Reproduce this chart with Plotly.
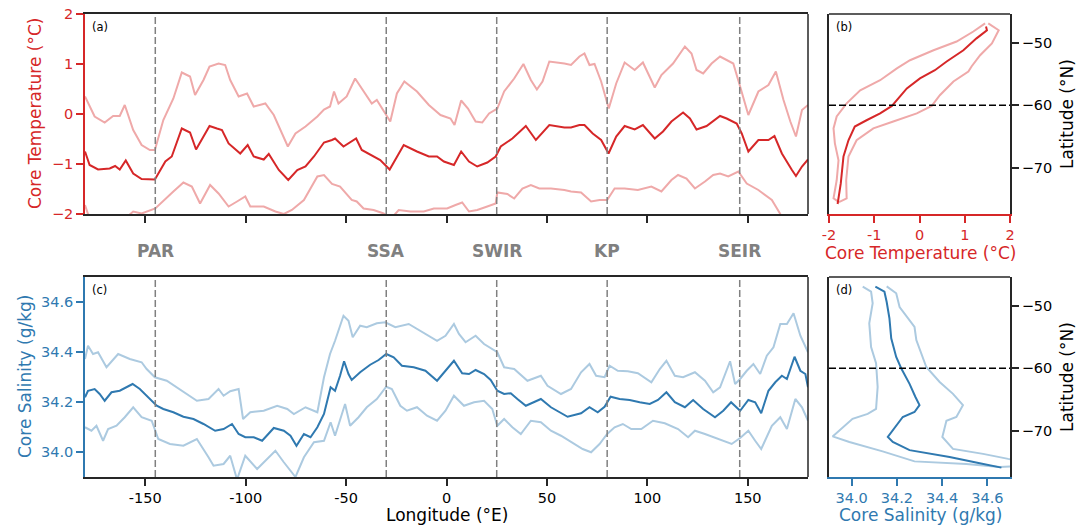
import plotly.graph_objects as go

# ---------------- data ----------------
ridge_names = ["PAR", "SSA", "SWIR", "KP", "SEIR"]
ridge_lons = [-145, -30, 25, 80, 146]

lon_t_mean = [-180, -177.7, -173.5, -167.7, -165, -162.7, -159.7, -156, -151.8, -145.2, -140, -136.8, -131.8, -127.7,
              -124.7, -118, -114.3, -111.8, -108.5, -102.7, -99, -96, -91, -88.5, -83.5, -78.8, -74.3, -70.2, -66,
              -61, -57, -55.5, -51.3, -48.8, -45, -42.2, -36.3, -33, -28.3, -25.5, -21.3, -14.7, -8.8, -4.7, -1.3,
              3.7, 7.3, 11.2, 15.3, 20.3, 24.5, 27, 32.8, 39.5, 44.5, 51.2, 58.7, 62, 66.2, 68.7, 72.8, 77, 80.7,
              84.5, 88.7, 93.7, 97.8, 103.7, 107.8, 112, 117.8, 121.2, 124.5, 129.5, 136.2, 139.5, 144.5, 147,
              150.3, 155.3, 160.3, 163.3, 167, 172, 174, 177, 180]
t_mean = [-0.75, -1.02, -1.11, -1.09, -1.04, -1.11, -0.93, -1.19, -1.30, -1.31, -0.95, -0.85, -0.29, -0.37,
          -0.71, -0.24, -0.29, -0.32, -0.59, -0.79, -0.62, -0.85, -0.91, -0.80, -1.12, -1.32, -1.12, -1.05, -0.85,
          -0.57, -0.52, -0.49, -0.65, -0.59, -0.49, -0.72, -0.84, -0.92, -1.11, -0.92, -0.62, -0.75, -0.85, -0.85,
          -0.95, -1.02, -0.75, -0.95, -1.05, -0.97, -0.85, -0.65, -0.49, -0.24, -0.52, -0.22, -0.27, -0.27, -0.22,
          -0.22, -0.39, -0.52, -0.79, -0.45, -0.24, -0.31, -0.22, -0.49, -0.35, -0.15, 0.03, -0.09, -0.31, -0.24,
          -0.04, -0.09, -0.19, -0.39, -0.75, -0.52, -0.52, -0.44, -0.79, -1.12, -1.24, -1.05, -0.91]

lon_t_upper = [-180, -175.2, -170.2, -166, -162.7, -160.2, -156, -151.8, -147.7, -145.2, -141, -136, -131.8, -127.7,
               -125.2, -121, -118, -113.5, -110.2, -107.7, -103.5, -99.3, -96, -90.2, -86, -79, -75.2, -70.2, -64.3,
               -61, -58, -56, -53.8, -49.7, -45.5, -41.3, -37.2, -34.7, -30.5, -28, -24.7, -21, -14.7, -8.8, -3, 2,
               4, 7.3, 10.7, 14.5, 17.8, 21.2, 25.3, 28.7, 33.7, 38.3, 42, 45, 47.8, 51.2, 58.7, 62, 66.2, 68.7,
               71.2, 73.7, 77, 80.8, 84.5, 88.7, 93.7, 97.8, 103.7, 107, 112.8, 118.7, 122, 124.5, 127.8, 132,
               136.2, 139, 142.8, 146.2, 150.3, 155.3, 160.3, 164, 167.8, 171.2, 174, 177, 180]
t_upper = [0.35, -0.05, -0.17, -0.04, -0.04, 0.18, -0.32, -0.62, -0.72, -0.72, -0.12, 0.31, 0.83, 0.75,
           0.38, 0.68, 0.95, 1.01, 0.98, 0.68, 0.35, 0.41, 0.15, 0.21, -0.02, -0.65, -0.39, -0.25, -0.05,
           0.09, 0.15, 0.45, 0.21, 0.35, 0.71, 0.45, 0.21, 0.28, 0.01, -0.15, 0.41, 0.65, 0.45, 0.18, -0.02, -0.09,
           -0.22, 0.27, 0.11, -0.15, -0.17, 0.01, 0.11, 0.45, 0.71, 1.0, 0.68, 0.49, 0.65, 1.05, 1.01, 0.98, 1.15, 1.21,
           0.98, 1.0, 0.65, 0.11, 0.61, 1.03, 0.88, 1.03, 0.53, 0.78, 1.01, 1.35, 1.21, 0.88, 0.81, 1.01,
           1.15, 1.09, 1.01, 0.55, -0.02, 0.45, 0.58, 0.85, 0.28, -0.15, -0.45, 0.08, 0.18]

lon_t_lower = [-180, -178.5, -176, -170, -163, -158, -156, -151.8, -145, -140, -136, -131, -126.8, -122.7, -117.7,
               -113.5, -108.5, -104.3, -100.2, -97.7, -91, -85.2, -81, -77, -71, -64.3, -61, -57, -53, -47.2, -44.7,
               -41.3, -36.3, -31.3, -29, -26, -23.8, -18, -11.3, -6.3, 0.3, 4.5, 7.8, 11.2, 15.3, 20.3, 24.5, 25.3,
               30.3, 33.7, 37.8, 42, 46.2, 52, 58.7, 62, 67, 72, 76.2, 80, 83.7, 88.7, 95.3, 102, 107, 112, 115.3,
               119.5, 123.7, 128.7, 132.8, 136.2, 140.3, 145.3, 149.5, 155.3, 162, 166.2, 170, 175, 180]
t_lower = [-1.82, -2.0, -2.1, -2.15, -2.1, -2.02, -1.95, -1.99, -1.89, -1.69, -1.55, -1.37, -1.45, -1.79, -1.42,
           -1.59, -1.85, -1.75, -1.65, -1.85, -1.85, -1.95, -2.0, -1.92, -1.72, -1.25, -1.22, -1.40, -1.45, -1.72,
           -1.75, -1.89, -1.92, -1.99, -2.05, -2.02, -1.92, -1.95, -1.95, -1.89, -1.89, -1.82, -1.77, -1.95, -1.92,
           -1.85, -1.79, -1.57, -1.6, -1.69, -1.49, -1.42, -1.49, -1.49, -1.52, -1.55, -1.57, -1.75, -1.72, -1.72,
           -1.49, -1.49, -1.52, -1.45, -1.55, -1.32, -1.22, -1.29, -1.49, -1.35, -1.22, -1.19, -1.25, -1.15, -1.39,
           -1.52, -1.72, -2.0, -2.2, -2.3, -2.3]

lon_s_mean = [-180, -178.5, -175.2, -172.7, -170.2, -166.8, -162.7, -159.3, -156.3, -152.7, -148.5, -144.3, -141,
              -136, -131, -126, -121, -115.2, -111, -106.8, -103.5, -100.2, -96, -91.8, -86, -81, -77.7, -74.7, -71,
              -67.7, -64.3, -61, -57.7, -55.5, -53, -51, -48.8, -47.2, -43, -38, -33.8, -30, -26.3, -22.2, -16.3,
              -10.5, -4.7, -0.5, 3.7, 7.8, 11.2, 14.5, 18.7, 22, 25.3, 28.7, 32, 35.3, 39.5, 47, 52, 60.3, 62, 67,
              71.2, 75.3, 78.7, 81.7, 86.2, 91.2, 96.2, 101.2, 105.3, 109.5, 113.7, 118.7, 122.8, 127.8, 133.7,
              137.8, 141.7, 146.2, 150.3, 153.7, 156.7, 160.3, 163.7, 167, 169.5, 173.3, 176.2, 178.7, 180]
s_mean = [34.219, 34.245, 34.252, 34.232, 34.205, 34.239, 34.245, 34.259, 34.272, 34.252, 34.219, 34.185, 34.172,
          34.159, 34.141, 34.132, 34.112, 34.085, 34.092, 34.112, 34.072, 34.059, 34.059, 34.045, 34.096, 34.085,
          34.065, 34.025, 34.072, 34.059, 34.099, 34.152, 34.259, 34.245, 34.305, 34.363, 34.312, 34.288, 34.319,
          34.349, 34.368, 34.392, 34.379, 34.345, 34.339, 34.325, 34.285, 34.325, 34.365, 34.315, 34.312, 34.328,
          34.312, 34.288, 34.245, 34.232, 34.235, 34.212, 34.185, 34.212, 34.179, 34.141, 34.145, 34.155, 34.179,
          34.159, 34.181, 34.221, 34.212, 34.208, 34.199, 34.192, 34.208, 34.239, 34.199, 34.179, 34.208, 34.172,
          34.139, 34.165, 34.199, 34.165, 34.208, 34.199, 34.155, 34.245, 34.279, 34.305, 34.292, 34.381, 34.325,
          34.312, 34.259]

lon_s_upper = [-180, -178.5, -176, -173.5, -169.3, -163.5, -157.7, -151.8, -149.3, -145.2, -139.3, -131, -124.3,
               -118.5, -113.5, -111, -107.7, -103.5, -101.3, -97.7, -91, -84.3, -79.3, -76, -70.2, -64.3, -61, -58,
               -55.5, -51.3, -48.8, -46.7, -43, -39.7, -34.7, -30.5, -25.5, -18.8, -13, -4.7, -0.5, 3.7, 6.2, 9.5,
               14.5, 18.7, 25.3, 28.7, 33.7, 40.3, 47, 50.3, 57, 62, 67, 71.2, 74.5, 78.7, 81.2, 85.3, 90.3, 95.3,
               102, 106.2, 109.5, 113.7, 117.8, 123.7, 128.7, 132.8, 136.2, 138.7, 141.2, 143.7, 146.2, 149.5, 152.8,
               156.2, 159.5, 162.8, 166.2, 169.5, 172.8, 176.2, 180]
s_upper = [34.372, 34.425, 34.392, 34.399, 34.339, 34.392, 34.372, 34.359, 34.332, 34.299, 34.285, 34.239, 34.205,
           34.212, 34.252, 34.225, 34.243, 34.252, 34.132, 34.159, 34.165, 34.185, 34.172, 34.152, 34.179, 34.159,
           34.299, 34.392, 34.445, 34.545, 34.525, 34.459, 34.505, 34.499, 34.515, 34.519, 34.499, 34.512, 34.485,
           34.445, 34.465, 34.512, 34.472, 34.439, 34.465, 34.432, 34.399, 34.339, 34.332, 34.285, 34.305, 34.265,
           34.232, 34.252, 34.319, 34.352, 34.305, 34.299, 34.345, 34.325, 34.323, 34.315, 34.279, 34.332, 34.365,
           34.305, 34.299, 34.319, 34.285, 34.239, 34.259, 34.312, 34.363, 34.272, 34.292, 34.325, 34.352, 34.312,
           34.385, 34.419, 34.512, 34.512, 34.555, 34.465, 34.399]

lon_s_lower = [-180, -176.8, -174.3, -171, -168.5, -164.3, -160.2, -156, -151.8, -146.8, -143.5, -137.7, -131,
               -124.3, -118.5, -116, -111, -107.7, -104.3, -100.2, -94.3, -89.3, -85.2, -81, -75.2, -71, -66, -61,
               -57.7, -55.5, -53, -50.5, -48, -43.8, -39.7, -34.7, -30, -27.2, -23, -19.7, -14.7, -9.7, -4.7, -0.5,
               3.7, 8.7, 13.7, 18.7, 22.8, 25.3, 28.7, 32.8, 37, 42, 47, 52, 57, 62, 67.8, 72, 76.2, 80, 83.7, 87.8,
               92, 97, 102.8, 108.7, 115.3, 120.3, 123.7, 128.7, 135.3, 142, 146.2, 150.3, 153.7, 156.7, 162, 166.2,
               169.5, 173.7, 177, 180]
s_lower = [34.099, 34.085, 34.105, 34.045, 34.092, 34.105, 34.139, 34.179, 34.139, 34.125, 34.052, 34.032, 34.025,
           34.052, 33.979, 33.945, 33.952, 33.985, 33.89, 33.985, 33.932, 33.972, 34.005, 33.959, 33.90, 33.979,
           34.039, 34.045, 34.119, 34.065, 34.125, 34.192, 34.105, 34.139, 34.179, 34.212, 34.261, 34.252, 34.185,
           34.165, 34.179, 34.145, 34.125, 34.165, 34.225, 34.185, 34.199, 34.205, 34.172, 34.105, 34.132, 34.099,
           34.072, 34.125, 34.119, 34.085, 34.065, 34.039, 34.012, 33.999, 34.032, 34.072, 34.099, 34.112, 34.092,
           34.092, 34.125, 34.115, 34.092, 34.059, 34.085, 34.072, 34.052, 34.032, 34.056, 34.085, 34.045, 34.012,
           34.105, 34.139, 34.092, 34.212, 34.179, 34.125]

# latitude profiles
lat_bt_mean = [-47.4, -48.0, -49.3, -51.2, -53.0, -54.4, -55.7, -57.3, -60.1, -61.3, -62.4, -63.4, -65.6, -68.2, -72.5, -75.8]
bt_mean = [1.47, 1.49, 1.26, 0.97, 0.60, 0.34, 0.01, -0.28, -0.61, -0.87, -1.17, -1.43, -1.57, -1.68, -1.74, -1.81]
lat_bt_upper = [-46.9, -48.0, -50.1, -52.0, -53.8, -54.6, -56.2, -58.4, -60.1, -61.3, -62.6, -63.7, -65.6, -68.2, -72.0, -74.9, -75.5]
bt_upper = [1.52, 1.75, 1.60, 1.34, 1.15, 1.08, 0.75, 0.45, 0.27, -0.06, -0.58, -1.02, -1.39, -1.57, -1.62, -1.61, -1.78]
lat_bt_lower = [-46.9, -48.2, -49.8, -51.2, -52.8, -54.1, -56.0, -57.6, -59.7, -61.8, -63.7, -66.1, -68.8, -72.0, -74.9, -75.5]
bt_lower = [1.45, 1.19, 0.82, 0.31, -0.21, -0.50, -0.87, -1.31, -1.61, -1.83, -1.90, -1.87, -1.79, -1.83, -1.90, -1.78]

lat_bs_mean = [-46.95, -47.75, -49.4, -52.0, -55.2, -58.2, -60.0, -62.5, -64.6, -65.9, -67.0, -67.8, -71.0, -71.8, -73.1, -74.2, -75.2, -75.9]
bs_mean = [34.105, 34.145, 34.155, 34.167, 34.175, 34.197, 34.219, 34.256, 34.282, 34.300, 34.278, 34.226, 34.160, 34.182, 34.256, 34.433, 34.566, 34.662]
lat_bs_left = [-46.95, -47.75, -49.6, -52.8, -56.6, -59.2, -63.0, -66.5, -67.3, -68.1, -70.9, -71.8, -73.3, -74.9, -75.3, -75.8, -75.6]
bs_left = [34.049, 34.086, 34.093, 34.078, 34.086, 34.108, 34.115, 34.108, 34.071, 34.004, 33.916, 33.990, 34.137, 34.278, 34.507, 34.655, 34.75]
lat_bs_right = [-46.9, -48.0, -50.2, -52.3, -53.4, -55.5, -59.8, -62.2, -64.1, -65.9, -67.8, -68.4, -71.0, -72.9, -73.7, -74.5, -74.8]
bs_right = [34.155, 34.197, 34.212, 34.256, 34.278, 34.286, 34.330, 34.389, 34.448, 34.492, 34.463, 34.419, 34.401, 34.448, 34.581, 34.692, 34.75]

lon_ticks = [-150, -100, -50, 0, 50, 100, 150]
t_ticks = [-2, -1, 0, 1, 2]
s_ticks = [34.0, 34.2, 34.4, 34.6]
lat_ticks = [-50, -60, -70]
lat_split = -60

# ---------------- style ----------------
RED = "#d62728"
RED_L = "#efa9a9"
BLUE = "#2f79b0"
BLUE_L = "#accae0"
GRAY = "#808080"
FR = "#262626"
FONT = "DejaVu Sans"
W, H = 1090, 530

def px(x):
    return x / W

def py(y):
    return 1 - y / H

dom_left = [px(85), px(808)]
dom_right = [px(829), px(1010)]
dom_top = [py(214), py(14)]
dom_bot = [py(477), py(277)]

fig = go.Figure()

def line(x, y, color, xa, ya, width=2):
    fig.add_trace(go.Scatter(x=x, y=y, mode="lines", line=dict(color=color, width=width),
                             xaxis=xa, yaxis=ya, showlegend=False, hoverinfo="skip"))

# panel a
line(lon_t_upper, t_upper, RED_L, "x", "y")
line(lon_t_lower, t_lower, RED_L, "x", "y")
line(lon_t_mean, t_mean, RED, "x", "y")
# panel b
line(bt_upper, lat_bt_upper, RED_L, "x2", "y2")
line(bt_lower, lat_bt_lower, RED_L, "x2", "y2")
line(bt_mean, lat_bt_mean, RED, "x2", "y2")
# panel c
line(lon_s_upper, s_upper, BLUE_L, "x3", "y3")
line(lon_s_lower, s_lower, BLUE_L, "x3", "y3")
line(lon_s_mean, s_mean, BLUE, "x3", "y3")
# panel d
line(bs_left, lat_bs_left, BLUE_L, "x4", "y4")
line(bs_right, lat_bs_right, BLUE_L, "x4", "y4")
line(bs_mean, lat_bs_mean, BLUE, "x4", "y4")

shapes = []
for lo in ridge_lons:
    for xr, yr in (("x", "y domain"), ("x3", "y3 domain")):
        shapes.append(dict(type="line", xref=xr, yref=yr, x0=lo, x1=lo, y0=0, y1=1,
                           line=dict(color=GRAY, width=1.5, dash="7px,3px"), layer="above"))
for xr, yr in (("x2 domain", "y2"), ("x4 domain", "y4")):
    shapes.append(dict(type="line", xref=xr, yref=yr, x0=0, x1=1, y0=lat_split, y1=lat_split,
                       line=dict(color="black", width=1.5, dash="7px,3px"), layer="above"))
# missing spines
for xr, yr in (("x domain", "y domain"), ("x3 domain", "y3 domain")):
    shapes.append(dict(type="line", xref=xr, yref=yr, x0=1, x1=1, y0=0, y1=1,
                       line=dict(color=FR, width=1.5), layer="above"))
for xr, yr in (("x2 domain", "y2 domain"), ("x4 domain", "y4 domain")):
    shapes.append(dict(type="line", xref=xr, yref=yr, x0=0, x1=1, y0=1, y1=1,
                       line=dict(color=FR, width=1.5), layer="above"))

tickfont = dict(family=FONT, size=14.5)

def fmt_num(v, d=0):
    s = f"{abs(v):.{d}f}"
    return ("-" + s) if v < 0 else s

common = dict(showgrid=False, zeroline=False, showline=True, linewidth=1.5,
              ticks="outside", ticklen=7, tickwidth=1.5, automargin=False,
              ticklabeloverflow="allow")

layout = dict(
    width=W, height=H, margin=dict(l=0, r=0, t=0, b=0, pad=0, autoexpand=False),
    paper_bgcolor="white", plot_bgcolor="white",
    font=dict(family=FONT, size=14, color="black"),
    shapes=shapes,
    xaxis=dict(common, domain=dom_left, anchor="y", range=[-180, 180],
               linecolor=FR, mirror=True, tickcolor=FR,
               tickvals=lon_ticks, showticklabels=False),
    yaxis=dict(common, domain=dom_top, anchor="x", range=[-2, 2],
               linecolor=RED, mirror=False, tickcolor=RED,
               tickvals=t_ticks, tickfont=dict(tickfont, color=RED)),
    xaxis2=dict(common, domain=dom_right, anchor="y2", range=[-2, 2],
                linecolor=RED, mirror=False, tickcolor=RED,
                tickvals=t_ticks, ticktext=[fmt_num(v) for v in t_ticks],
                tickfont=dict(tickfont, color=RED)),
    yaxis2=dict(common, domain=dom_top, anchor="x2", side="right", range=[-77.4, -45.4],
                linecolor=FR, mirror=True, tickcolor=FR,
                tickvals=lat_ticks, tickfont=dict(tickfont, color="black")),
    xaxis3=dict(common, domain=dom_left, anchor="y3", range=[-180, 180],
                linecolor=FR, mirror=True, tickcolor=FR,
                tickvals=lon_ticks, ticktext=[fmt_num(v) for v in lon_ticks],
                tickfont=dict(tickfont, color="black")),
    yaxis3=dict(common, domain=dom_bot, anchor="x3", range=[33.9, 34.7],
                linecolor=BLUE, mirror=False, tickcolor=BLUE,
                tickvals=s_ticks, ticktext=[f"{v:.1f}" for v in s_ticks],
                tickfont=dict(tickfont, color=BLUE)),
    xaxis4=dict(common, domain=dom_right, anchor="y4", range=[33.9, 34.7],
                linecolor=BLUE, mirror=False, tickcolor=BLUE,
                tickvals=s_ticks, ticktext=[f"{v:.1f}" for v in s_ticks],
                tickfont=dict(tickfont, color=BLUE)),
    yaxis4=dict(common, domain=dom_bot, anchor="x4", side="right", range=[-77.4, -45.4],
                linecolor=FR, mirror=True, tickcolor=FR,
                tickvals=lat_ticks, tickfont=dict(tickfont, color="black")),
)
fig.update_layout(**layout)

ann = []
# panel letters
for letter, xr, yr in (("(a)", "x domain", "y domain"), ("(b)", "x2 domain", "y2 domain"),
                       ("(c)", "x3 domain", "y3 domain"), ("(d)", "x4 domain", "y4 domain")):
    ann.append(dict(text=letter, xref=xr, yref=yr, x=0, y=1, xanchor="left", yanchor="top",
                    xshift=5, yshift=-4, showarrow=False, font=dict(family=FONT, size=11.5, color="black")))
# ridge labels
for name, lo in zip(ridge_names, ridge_lons):
    ann.append(dict(text=f"<b>{name}</b>", xref="x", yref="paper", x=lo, y=py(251),
                    xanchor="center", yanchor="middle", showarrow=False,
                    font=dict(family=FONT, size=17, color=GRAY)))
# axis titles
ttl = dict(family=FONT, size=17)
ann += [
    dict(text="Core Temperature (°C)", xref="paper", yref="paper", x=px(35), y=py(114), textangle=-90,
         xanchor="center", yanchor="middle", showarrow=False, font=dict(ttl, color=RED)),
    dict(text="Core Salinity (g/kg)", xref="paper", yref="paper", x=px(25), y=py(377), textangle=-90,
         xanchor="center", yanchor="middle", showarrow=False, font=dict(ttl, color=BLUE)),
    dict(text="Latitude (°N)", xref="paper", yref="paper", x=px(1067), y=py(114), textangle=-90,
         xanchor="center", yanchor="middle", showarrow=False, font=dict(ttl, color="black")),
    dict(text="Latitude (°N)", xref="paper", yref="paper", x=px(1067), y=py(377), textangle=-90,
         xanchor="center", yanchor="middle", showarrow=False, font=dict(ttl, color="black")),
    dict(text="Core Temperature (°C)", xref="paper", yref="paper", x=px(920), y=py(253),
         xanchor="center", yanchor="middle", showarrow=False, font=dict(ttl, color=RED)),
    dict(text="Core Salinity (g/kg)", xref="paper", yref="paper", x=px(920), y=py(515),
         xanchor="center", yanchor="middle", showarrow=False, font=dict(ttl, color=BLUE)),
    dict(text="Longitude (°E)", xref="paper", yref="paper", x=px(446.5), y=py(515),
         xanchor="center", yanchor="middle", showarrow=False, font=dict(ttl, color="black")),
]
fig.update_layout(annotations=ann)

# remove the browser's default page margin so the figure fills the window exactly
fig.write_html("out.html", config={"displayModeBar": False},
               post_script="document.body.style.margin='0px';")
